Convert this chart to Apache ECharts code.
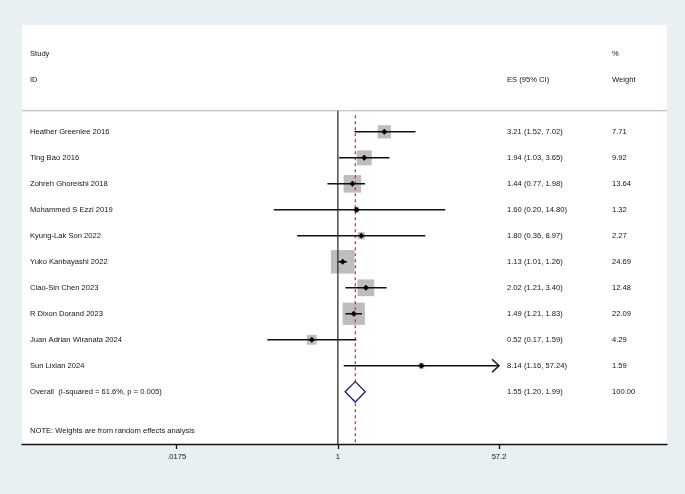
<!DOCTYPE html>
<html>
<head>
<meta charset="utf-8" />
<script src="https://cdn.jsdelivr.net/npm/echarts@6/dist/echarts.min.js"></script>
<style>
  html, body { margin: 0; padding: 0; background: #e8f0f3; }
  #chart { width: 685px; height: 494px; }
</style>
</head>
<body>
<div id="chart"></div>
<script>
// data
var studies = ['Heather Greenlee 2016', 'Ting Bao 2016', 'Zohreh Ghoreishi 2018', 'Mohammed S Ezzi 2019',
    'Kyung-Lak Son 2022', 'Yuko Kanbayashi 2022', 'Ciao-Sin Chen 2023', 'R Dixon Dorand 2023',
    'Juan Adrian Wiranata 2024', 'Sun Lixian 2024'];
var es      = [3.21, 1.94, 1.44, 1.60, 1.80, 1.13, 2.02, 1.49, 0.52, 8.14];
var ciLow   = [1.52, 1.03, 0.77, 0.20, 0.36, 1.01, 1.21, 1.21, 0.17, 1.16];
var ciHigh  = [7.02, 3.65, 1.98, 14.80, 8.97, 1.26, 3.40, 1.83, 1.59, 57.24];
var weights = [7.71, 9.92, 13.64, 1.32, 2.27, 24.69, 12.48, 22.09, 4.29, 1.59];

var overallLabel = 'Overall  (I-squared = 61.6%, p = 0.005)';
var overall = [1.55, 1.20, 1.99];
var overallWeight = 100.00;
var noteText = 'NOTE: Weights are from random effects analysis';

var tickValues = [0.0175, 1, 57.2];
var tickLabels = ['.0175', '1', '57.2'];

// layout (rows on an inverted value axis, x on a log axis)
var ROW_FIRST = 4, ROW_OVERALL = 14, ROW_NOTE = 15.52;
var ROW_SEP = 3.19, ROW_DASH = 3.36;
var Y_MIN = -0.11, Y_MAX = 16.01;
var X_MIN = Math.pow(10, -3.4436), X_MAX = Math.pow(10, 3.5886);
var CLIP_MAX = 57.2;
var FONT = '7.6px "Liberation Sans", Arial, sans-serif';
var TXT = '#141414';
var COL_STUDY = 8, COL_ES = 485, COL_W = 590;

function fmt(v) { return v.toFixed(2); }

// text table rows
var table = [
    { row: 1, cells: ['Study', '', '%'] },
    { row: 2, cells: ['ID', 'ES (95% CI)', 'Weight'] }
];
studies.forEach(function (s, i) {
    table.push({ row: ROW_FIRST + i, cells: [s, fmt(es[i]) + ' (' + fmt(ciLow[i]) + ', ' + fmt(ciHigh[i]) + ')', fmt(weights[i])] });
});
table.push({ row: ROW_OVERALL, cells: [overallLabel, fmt(overall[0]) + ' (' + fmt(overall[1]) + ', ' + fmt(overall[2]) + ')', fmt(overallWeight)] });
table.push({ row: ROW_NOTE, cells: [noteText, '', ''] });

var chart = echarts.init(document.getElementById('chart'));

function renderBox(params, api) {
    var p = api.coord([api.value(0), api.value(1)]);
    var side = 4.75 * Math.sqrt(api.value(2));
    return {
        type: 'rect',
        shape: { x: p[0] - side / 2, y: p[1] - side / 2, width: side, height: side },
        style: { fill: '#bdbdbd' }
    };
}

function renderCI(params, api) {
    var row = api.value(1);
    var p = api.coord([api.value(0), row]);
    var hi = Math.min(api.value(3), CLIP_MAX);
    var xl = api.coord([api.value(2), row])[0];
    var xh = api.coord([hi, row])[0];
    var kids = [
        { type: 'line', shape: { x1: xl, y1: p[1], x2: xh, y2: p[1] }, style: { stroke: '#111', lineWidth: 1.5 } },
        { type: 'polygon', shape: { points: [[p[0] - 3, p[1]], [p[0], p[1] - 3], [p[0] + 3, p[1]], [p[0], p[1] + 3]] }, style: { fill: '#000' } }
    ];
    if (api.value(3) > CLIP_MAX) {
        kids.push({ type: 'polyline', shape: { points: [[xh - 7, p[1] - 6.5], [xh, p[1]], [xh - 7, p[1] + 6.5]] },
            style: { stroke: '#111', lineWidth: 1.5, fill: null } });
    }
    return { type: 'group', children: kids };
}

function renderOverall(params, api) {
    var row = api.value(1);
    var c = api.coord([api.value(0), row]);
    var xl = api.coord([api.value(2), row])[0];
    var xh = api.coord([api.value(3), row])[0];
    var h = 10.2;
    return {
        type: 'polygon',
        shape: { points: [[xl, c[1]], [c[0], c[1] - h], [xh, c[1]], [c[0], c[1] + h]] },
        style: { fill: '#fff', stroke: '#1f1f7a', lineWidth: 1.3 }
    };
}

function renderText(params, api) {
    var t = table[params.dataIndex];
    var y = api.coord([1, t.row])[1];
    var x0 = params.coordSys.x;
    var cols = [COL_STUDY, COL_ES, COL_W];
    var kids = [];
    t.cells.forEach(function (txt, k) {
        if (!txt) return;
        kids.push({ type: 'text', style: { text: txt, x: x0 + cols[k], y: y, fill: TXT, font: FONT, align: 'left', verticalAlign: 'middle' } });
    });
    return { type: 'group', children: kids };
}

chart.setOption({
    animation: false,
    backgroundColor: '#e8f0f3',
    grid: { left: 22, right: 18, top: 25, bottom: 50, show: true, backgroundColor: '#fff', borderWidth: 0 },
    xAxis: {
        type: 'log', logBase: 10, min: X_MIN, max: X_MAX, position: 'bottom',
        axisLine: { show: true, onZero: false, lineStyle: { color: '#111', width: 1.3 } },
        axisTick: { show: true, length: 5, customValues: tickValues, lineStyle: { color: '#111', width: 1.3 } },
        axisLabel: {
            customValues: tickValues, margin: 9, color: TXT, fontSize: 7.6, fontFamily: '"Liberation Sans", Arial, sans-serif',
            formatter: function (v) {
                for (var i = 0; i < tickValues.length; i++) if (Math.abs(v - tickValues[i]) < 1e-6 * tickValues[i] + 1e-9) return tickLabels[i];
                return '';
            }
        },
        splitLine: { show: false }
    },
    yAxis: { type: 'value', inverse: true, min: Y_MIN, max: Y_MAX, show: false },
    series: [
        {
            type: 'custom', name: 'boxes', z: 2, clip: false,
            data: studies.map(function (s, i) { return [es[i], ROW_FIRST + i, weights[i]]; }),
            encode: { x: 0, y: 1 },
            renderItem: renderBox
        },
        {
            type: 'line', name: 'separator', z: 3, symbol: 'none', silent: true,
            data: [[X_MIN, ROW_SEP], [X_MAX, ROW_SEP]],
            lineStyle: { color: '#b4b4b4', width: 1 }
        },
        {
            type: 'line', name: 'null', z: 3, symbol: 'none', silent: true,
            data: [[1, ROW_SEP], [1, Y_MAX]],
            lineStyle: { color: '#333', width: 1.3 }
        },
        {
            type: 'line', name: 'overallLine', z: 3, symbol: 'none', silent: true,
            data: [[overall[0], ROW_DASH], [overall[0], Y_MAX]],
            lineStyle: { color: '#a8344a', width: 1.2, type: [3, 3] }
        },
        {
            type: 'custom', name: 'ci', z: 4, clip: false,
            data: studies.map(function (s, i) { return [es[i], ROW_FIRST + i, ciLow[i], ciHigh[i]]; }),
            encode: { x: 0, y: 1 },
            renderItem: renderCI
        },
        {
            type: 'custom', name: 'overall', z: 4, clip: false,
            data: [[overall[0], ROW_OVERALL, overall[1], overall[2]]],
            encode: { x: 0, y: 1 },
            renderItem: renderOverall
        },
        {
            type: 'custom', name: 'table', z: 5, clip: false, silent: true,
            data: table.map(function (t) { return [1, t.row]; }),
            encode: { x: 0, y: 1 },
            renderItem: renderText
        }
    ]
});
</script>
</body>
</html>
